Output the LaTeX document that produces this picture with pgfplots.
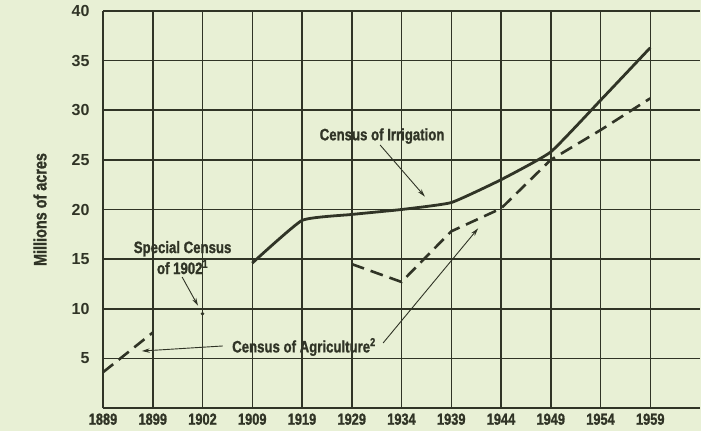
\documentclass[border=0pt]{standalone}
\usepackage{pgfplots}
\pgfplotsset{compat=1.18}
\usetikzlibrary{arrows.meta}
\usepackage{fontspec}
\setmainfont{Liberation Sans}[BoldFont={Liberation Sans Bold}]
\newfontfamily\cond{Liberation Sans Bold}[FakeStretch=0.8, FakeBold=1.2]
\definecolor{bg}{RGB}{232,240,213}
\definecolor{ink}{RGB}{48,52,38}
\begin{document}
\begin{tikzpicture}[x=1pt,y=1pt]
\fill[bg] (0,0) rectangle (701,431);
\useasboundingbox (0,0) rectangle (701,431);
\begin{axis}[
  at={(103pt,23pt)}, anchor=south west,
  scale only axis, width=597pt, height=397pt,
  xmin=0, xmax=12, ymin=0, ymax=40,
  axis lines=left,
  axis line style={-, ink, line width=1.6pt},
  grid=major,
  grid style={ink, line width=1.5pt},
  xtick={0,...,11},
  xticklabels={1889,1899,1902,1909,1919,1929,1934,1939,1944,1949,1954,1959},
  ytick={5,10,...,40},
  major tick length=0pt,
  xticklabel style={font=\cond\fontsize{16}{16}\selectfont, text=ink, yshift=-2pt},
  yticklabel style={font=\bfseries\fontsize{16}{16}\selectfont, text=ink, xshift=-10pt},
  /pgf/number format/assume math mode=true,
  ylabel={Millions of acres},
  every axis y label/.style={at={(axis description cs:0,0.5)}, xshift=-63pt, rotate=90, anchor=center, font=\cond\fontsize{18}{18}\selectfont, text=ink},
  clip=false,
]
% Census of Irrigation
\addplot[ink, line width=2.8pt, smooth, tension=0.25] coordinates {
 (3,14.6) (4,18.9) (5,19.5) (6,20.0) (7,20.7) (8,23.0) (9,25.8) (10,31.0) (11,36.3)};
% Census of Agriculture
\addplot[ink, line width=2.6pt, dash pattern=on 13pt off 7pt] coordinates {
 (0,3.6) (1,7.6)};
\addplot[ink, line width=2.6pt, dash pattern=on 13pt off 7pt] coordinates {
 (5,14.5) (6,12.7) (7,17.8) (8,20.1) (9,25.0) (10,28.0) (11,31.2)};
% Special Census of 1902
\addplot[only marks, mark=*, mark size=1.6pt, ink] coordinates {(2,9.5)};

\node[font=\cond\fontsize{16.5}{16.5}\selectfont, text=ink] at (axis cs:5.61,27.4) {Census of Irrigation};
\draw[ink, line width=0.9pt, -{Stealth[length=8pt,width=4.5pt]}] (axis cs:5.57,26.5) -- (axis cs:6.47,21.3);

\node[font=\cond\fontsize{16.5}{21}\selectfont, text=ink, align=center] at (axis cs:1.6,15.15) {Special Census\\of 1902\textsuperscript{1}};
\draw[ink, line width=0.9pt, -{Stealth[length=8pt,width=4.5pt]}] (axis cs:1.59,13.2) -- (axis cs:1.91,10.3);

\node[font=\cond\fontsize{16.5}{16.5}\selectfont, text=ink] at (axis cs:4.04,6.15) {Census of Agriculture\textsuperscript{2}};
\draw[ink, line width=0.9pt, -{Stealth[length=8pt,width=4.5pt]}] (axis cs:2.41,6.25) -- (axis cs:0.78,5.74);
\draw[ink, line width=0.9pt, -{Stealth[length=8pt,width=4.5pt]}] (axis cs:5.63,6.55) -- (axis cs:7.54,18.1);
\end{axis}
\end{tikzpicture}
\end{document}
